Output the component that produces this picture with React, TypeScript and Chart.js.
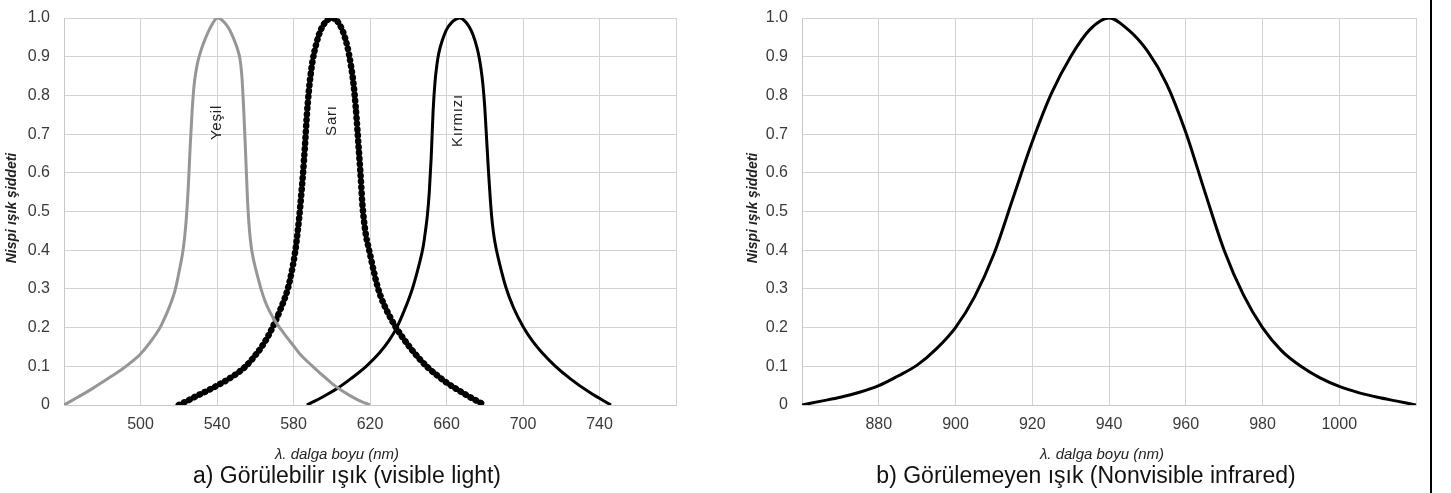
import React, { useEffect, useRef } from "react";
import { Chart, registerables } from "chart.js";

Chart.register(...registerables);

const FONT = "'Liberation Sans', Arial, Helvetica, sans-serif";

// ---- Chart a) visible light ----
const visibleMin = 460;
const visibleMax = 780;
const visibleStep = 40;

const yesilNm = [460, 465, 470, 475, 480, 485, 490, 495, 500, 505, 510, 512, 514, 516, 518, 519, 520, 521, 522, 523, 524, 525, 526, 527, 528, 529, 530, 531, 532, 534, 536, 538, 540, 542, 544, 546, 548, 550, 551, 552, 553, 554, 555, 556, 557, 558, 559, 560, 561, 562, 563, 565, 567, 570, 575, 580, 583, 590, 595, 600, 605, 610, 615, 620];
const yesilVal = [0, 0.014, 0.028, 0.043, 0.059, 0.075, 0.091, 0.11, 0.132, 0.162, 0.198, 0.218, 0.24, 0.265, 0.295, 0.316, 0.34, 0.365, 0.392, 0.43, 0.485, 0.565, 0.67, 0.76, 0.825, 0.862, 0.888, 0.906, 0.922, 0.948, 0.97, 0.988, 1, 0.997, 0.988, 0.975, 0.955, 0.93, 0.915, 0.895, 0.85, 0.76, 0.645, 0.525, 0.45, 0.405, 0.378, 0.356, 0.337, 0.318, 0.3, 0.27, 0.247, 0.22, 0.185, 0.153, 0.134, 0.1, 0.078, 0.056, 0.038, 0.023, 0.01, 0];

const sariNm = [520, 525, 530, 535, 540, 545, 550, 555, 560, 565, 569, 573, 577, 579, 581, 582, 583, 584, 585, 586, 587, 588, 589, 590, 592, 594, 596, 598, 600, 602, 604, 606, 608, 609, 610, 611, 612, 613, 614, 615, 616, 617, 618, 619, 620, 622, 624, 626, 628, 630, 633, 637, 641, 645, 650, 655, 660, 665, 670, 675, 680];
const sariVal = [0, 0.012, 0.025, 0.037, 0.05, 0.064, 0.08, 0.1, 0.128, 0.163, 0.2, 0.245, 0.3, 0.343, 0.4, 0.44, 0.485, 0.54, 0.6, 0.67, 0.75, 0.81, 0.855, 0.89, 0.935, 0.966, 0.985, 0.996, 1, 0.996, 0.984, 0.963, 0.93, 0.907, 0.878, 0.845, 0.8, 0.74, 0.67, 0.6, 0.52, 0.47, 0.435, 0.412, 0.39, 0.345, 0.305, 0.275, 0.252, 0.232, 0.205, 0.175, 0.148, 0.124, 0.098, 0.077, 0.058, 0.042, 0.027, 0.013, 0];

const kirmiziNm = [587, 595, 603, 610, 618, 625, 630, 634, 638, 642, 645, 647, 648, 649, 650, 651, 652, 653, 654, 655, 656, 658, 660, 663, 665, 667, 670, 672, 674, 676, 677, 678, 679, 680, 681, 682, 683, 684, 685, 686, 688, 691, 695, 700, 705, 710, 717, 725, 735, 746];
const kirmiziVal = [0, 0.02, 0.043, 0.068, 0.1, 0.135, 0.167, 0.2, 0.245, 0.298, 0.35, 0.39, 0.415, 0.45, 0.49, 0.55, 0.64, 0.76, 0.835, 0.88, 0.91, 0.945, 0.97, 0.99, 0.997, 1, 0.99, 0.976, 0.955, 0.922, 0.9, 0.87, 0.83, 0.77, 0.685, 0.6, 0.525, 0.468, 0.43, 0.403, 0.36, 0.305, 0.252, 0.203, 0.165, 0.135, 0.1, 0.067, 0.032, 0];

// ---- Chart b) nonvisible infrared ----
const infraredMin = 860;
const infraredMax = 1020;
const infraredStep = 20;

const irNm = [860, 865, 870, 875, 880, 885, 890, 895, 900, 905, 910, 915, 920, 925, 930, 935, 940, 945, 950, 955, 960, 965, 970, 975, 980, 985, 990, 995, 1000, 1005, 1010, 1015, 1020];
const irVal = [0, 0.01, 0.02, 0.033, 0.05, 0.075, 0.103, 0.145, 0.2, 0.28, 0.39, 0.535, 0.68, 0.805, 0.9, 0.97, 1, 0.97, 0.915, 0.83, 0.705, 0.55, 0.4, 0.285, 0.2, 0.14, 0.1, 0.07, 0.048, 0.032, 0.02, 0.01, 0];

// ---- Texts ----
const yTitle = "Nispi ışık şiddeti";
const xTitle = "λ. dalga boyu (nm)";
const subtitleA = "a) Görülebilir ışık (visible light)";
const subtitleB = "b) Görülemeyen ışık (Nonvisible infrared)";
const curveLabels = [
  { text: "Yeşil", nm: 540, v: 0.73 },
  { text: "Sarı", nm: 600, v: 0.735 },
  { text: "Kırmızı", nm: 666, v: 0.735 },
];

const yMin = 0;
const yMax = 1;
const yStep = 0.1;

function pts(xs: number[], ys: number[]) {
  return xs.map((x, i) => ({ x, y: ys[i] }));
}

type TextCfg = {
  yTitleX: number;
  yTitleY: number;
  xTitleX: number;
  xTitleY: number;
  subX: number;
  subY: number;
  subtitle: string;
  labels: { text: string; nm: number; v: number }[];
};

function textPlugin(cfg: TextCfg) {
  return {
    id: "texts",
    afterDraw(chart: any) {
      const ctx = chart.ctx as CanvasRenderingContext2D;
      const xs = chart.scales.x;
      const ys = chart.scales.y;
      ctx.save();
      // y title
      ctx.save();
      ctx.translate(cfg.yTitleX, cfg.yTitleY);
      ctx.rotate(-Math.PI / 2);
      ctx.font = `italic bold 14px ${FONT}`;
      ctx.fillStyle = "#222";
      ctx.textAlign = "center";
      ctx.textBaseline = "middle";
      ctx.fillText(yTitle, 0, 0);
      ctx.restore();
      // x title
      ctx.font = `italic 15px ${FONT}`;
      ctx.fillStyle = "#222";
      ctx.textAlign = "center";
      ctx.textBaseline = "alphabetic";
      ctx.fillText(xTitle, cfg.xTitleX, cfg.xTitleY);
      // subtitle
      ctx.font = `23px ${FONT}`;
      ctx.fillStyle = "#111";
      ctx.fillText(cfg.subtitle, cfg.subX, cfg.subY);
      // curve labels
      for (const l of cfg.labels) {
        ctx.save();
        ctx.translate(xs.getPixelForValue(l.nm), ys.getPixelForValue(l.v));
        ctx.rotate(-Math.PI / 2);
        ctx.font = `15px ${FONT}`;
        (ctx as any).letterSpacing = "0.8px";
        ctx.fillStyle = "#222";
        ctx.textAlign = "center";
        ctx.textBaseline = "middle";
        ctx.fillText(l.text, 0, 0);
        ctx.restore();
      }
      ctx.restore();
    },
  };
}

function baseOptions(xMin: number, xMax: number, xStep: number, yAxisWidth: number, padRight: number) {
  return {
    responsive: false,
    animation: false as const,
    layout: { padding: { left: 0, right: padRight, top: 18, bottom: 0 } },
    plugins: { legend: { display: false }, tooltip: { enabled: false }, title: { display: false } },
    elements: { point: { radius: 0 } },
    scales: {
      x: {
        type: "linear" as const,
        min: xMin,
        max: xMax,
        grid: { color: "#d3d3d3", lineWidth: 1, drawTicks: false },
        border: { color: "#c8c8c8" },
        ticks: {
          stepSize: xStep,
          autoSkip: false,
          maxRotation: 0,
          padding: 10,
          color: "#3a3a3a",
          font: { family: FONT, size: 16 },
          callback: (v: number) => (v === xMin || v === xMax ? "" : String(v)),
        },
        afterFit: (s: any) => {
          s.height = 88;
        },
      },
      y: {
        type: "linear" as const,
        min: yMin,
        max: yMax,
        grid: {
          color: "#d3d3d3",
          lineWidth: 1,
          drawTicks: true,
          tickLength: 14,
          tickColor: "rgba(0,0,0,0)",
        },
        border: { color: "#c8c8c8" },
        ticks: {
          stepSize: yStep,
          padding: 0,
          color: "#3a3a3a",
          font: { family: FONT, size: 16 },
          callback: (v: number) => (Math.abs(v) < 1e-9 ? "0" : Number(v).toFixed(1)),
        },
        afterFit: (s: any) => {
          s.width = yAxisWidth;
        },
      },
    },
  };
}

function VisibleChart() {
  const ref = useRef<HTMLCanvasElement>(null);
  useEffect(() => {
    if (!ref.current) return;
    const chart = new Chart(ref.current, {
      type: "line",
      data: {
        datasets: [
          {
            label: "Yeşil",
            data: pts(yesilNm, yesilVal),
            borderColor: "#969696",
            borderWidth: 3,
            cubicInterpolationMode: "monotone",
            pointRadius: 0,
            fill: false,
          },
          {
            label: "Sarı",
            data: pts(sariNm, sariVal),
            borderColor: "#000",
            borderWidth: 6.5,
            borderDash: [0.5, 5.3],
            borderCapStyle: "round",
            cubicInterpolationMode: "monotone",
            pointRadius: 0,
            fill: false,
          },
          {
            label: "Kırmızı",
            data: pts(kirmiziNm, kirmiziVal),
            borderColor: "#000",
            borderWidth: 3,
            cubicInterpolationMode: "monotone",
            pointRadius: 0,
            fill: false,
          },
        ],
      },
      options: baseOptions(visibleMin, visibleMax, visibleStep, 64, 44) as any,
      plugins: [
        textPlugin({
          yTitleX: 12,
          yTitleY: 208,
          xTitleX: 337,
          xTitleY: 459,
          subX: 347,
          subY: 483,
          subtitle: subtitleA,
          labels: curveLabels,
        }),
      ],
    });
    return () => chart.destroy();
  }, []);
  return (
    <canvas
      ref={ref}
      width={720}
      height={493}
      style={{ position: "absolute", left: 0, top: 0, width: 720, height: 493 }}
    />
  );
}

function InfraredChart() {
  const ref = useRef<HTMLCanvasElement>(null);
  useEffect(() => {
    if (!ref.current) return;
    const chart = new Chart(ref.current, {
      type: "line",
      data: {
        datasets: [
          {
            label: "Kızılötesi",
            data: pts(irNm, irVal),
            borderColor: "#000",
            borderWidth: 3,
            cubicInterpolationMode: "monotone",
            pointRadius: 0,
            fill: false,
          },
        ],
      },
      options: baseOptions(infraredMin, infraredMax, infraredStep, 82, 15) as any,
      plugins: [
        textPlugin({
          yTitleX: 33,
          yTitleY: 208,
          xTitleX: 382,
          xTitleY: 459,
          subX: 366,
          subY: 483,
          subtitle: subtitleB,
          labels: [],
        }),
      ],
    });
    return () => chart.destroy();
  }, []);
  return (
    <canvas
      ref={ref}
      width={711}
      height={493}
      style={{ position: "absolute", left: 720, top: 0, width: 711, height: 493 }}
    />
  );
}

export default function App() {
  return (
    <div
      style={{
        position: "absolute",
        left: 0,
        top: 0,
        width: 1451,
        height: 493,
        background: "#fff",
        overflow: "hidden",
      }}
    >
      <VisibleChart />
      <InfraredChart />
      <div
        style={{
          position: "absolute",
          left: 1430,
          top: 0,
          width: 2,
          height: 493,
          background: "#000",
        }}
      />
    </div>
  );
}
